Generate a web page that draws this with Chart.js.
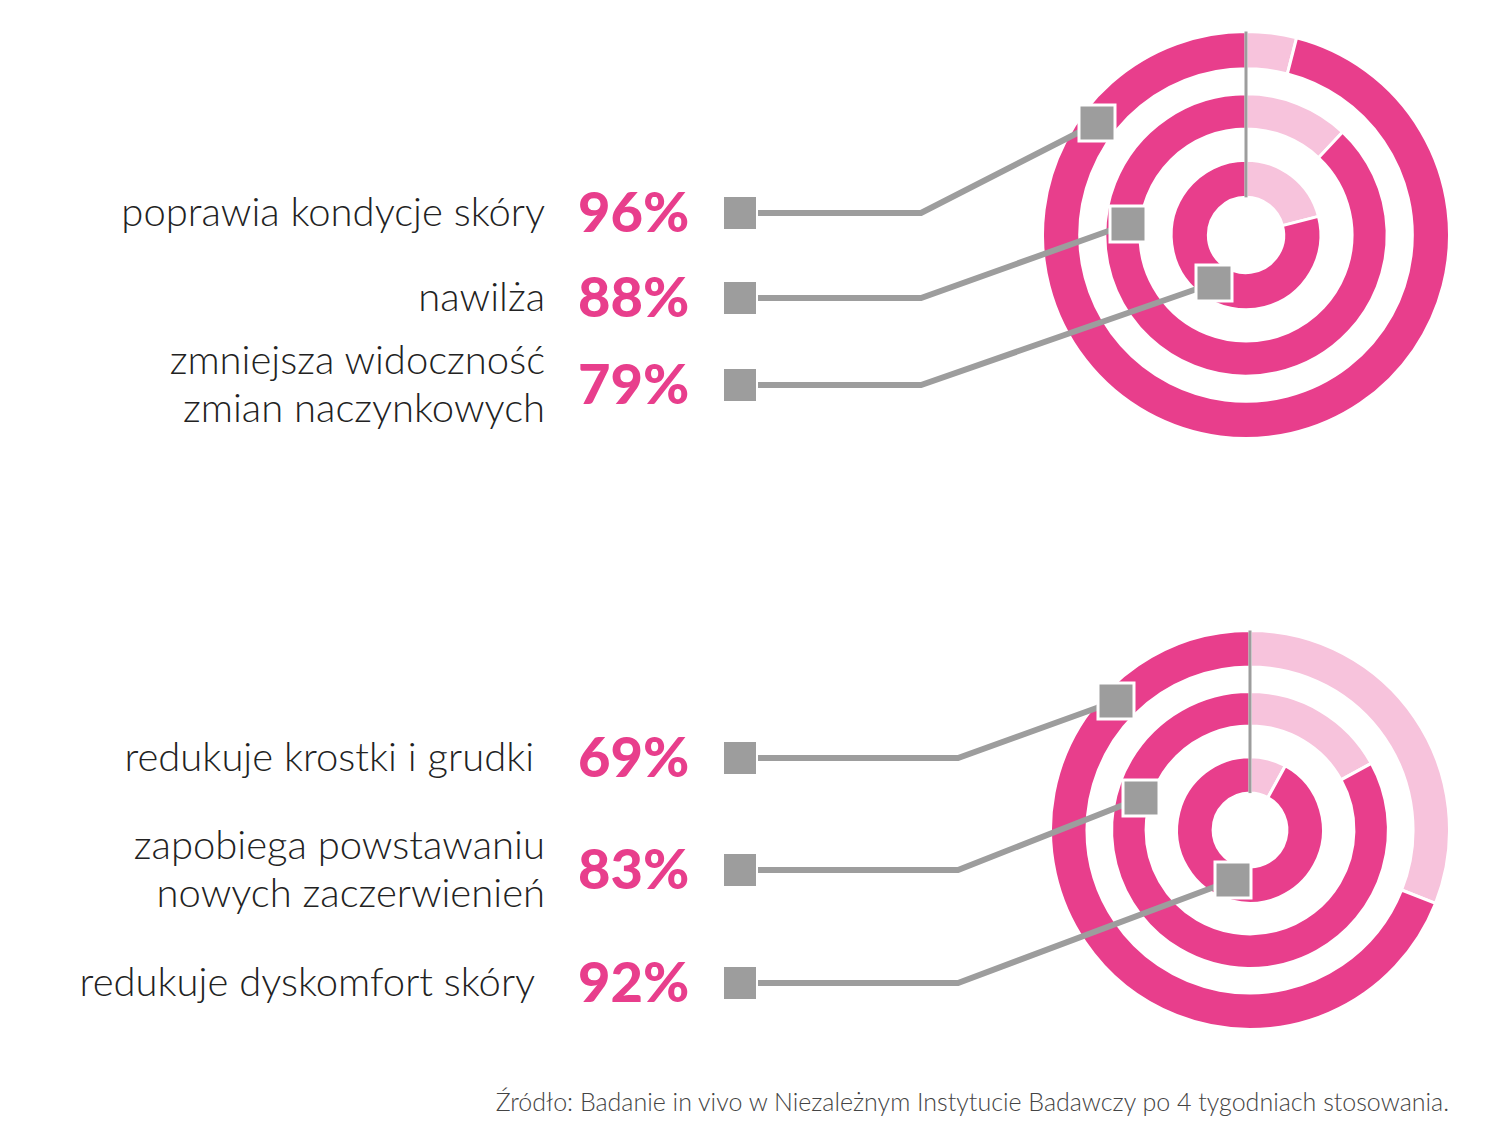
<!DOCTYPE html>
<html><head><meta charset="utf-8">
<script src="https://cdn.jsdelivr.net/npm/chart.js@4"></script>
<style>
body{margin:0;background:#fff;width:1500px;height:1142px;position:relative;overflow:hidden;font-family:"Lato",sans-serif;}
canvas.d{position:absolute;z-index:1;}
.lbl{position:absolute;right:955px;text-align:right;font-size:40px;color:#222;line-height:48px;font-weight:300;white-space:nowrap;}
.pct{position:absolute;left:578px;font-size:56px;font-weight:900;color:#e83e8c;}
.src{position:absolute;right:51px;top:1086px;font-size:25px;color:#444;font-weight:300;white-space:nowrap;}
#ov{position:absolute;left:0;top:0;z-index:5;pointer-events:none;}
</style></head><body>
<svg width="1500" height="1142" id="ov"></svg>
<canvas class="d" id="c1" width="410" height="410" style="left:1041px;top:30px"></canvas>
<canvas class="d" id="c2" width="402" height="402" style="left:1049px;top:629px"></canvas>
<div id="txt"></div>
<div class="src">Źródło: Badanie in vivo w Niezależnym Instytucie Badawczy po 4 tygodniach stosowania.</div>
<script>
const topLabels = ['poprawia kondycje skóry', 'nawilża', 'zmniejsza widoczność<br>zmian naczynkowych'];
const topValues = [96, 88, 79];
const botLabels = ['redukuje krostki i grudki&nbsp;', 'zapobiega powstawaniu<br>nowych zaczerwienień', 'redukuje dyskomfort skóry&nbsp;'];
const botValues = [69, 83, 92];

const PINK = '#e83e8c', LIGHT = '#f7c3dc', GRAY = '#9d9d9d';

// text and connectors (annotations)
const txt = document.getElementById('txt');
const ov = document.getElementById('ov');
function addRow(label, val, y, lines, ringPt, elbowX) {
  txt.insertAdjacentHTML('beforeend',
    `<div class="lbl" style="top:${y - 24*lines - 2}px">${label}</div>` +
    `<div class="pct" style="top:${y - 36}px">${val}%</div>`);
  ov.insertAdjacentHTML('beforeend',
    `<polyline points="757,${y} ${elbowX},${y} ${ringPt[0]},${ringPt[1]}" fill="none" stroke="${GRAY}" stroke-width="6"/>` +
    `<rect x="723" y="${y-17}" width="34" height="34" fill="${GRAY}" stroke="#fff" stroke-width="2"/>`);
}
function ringSquare(p) {
  return `<rect x="${p[0]-18}" y="${p[1]-18}" width="36" height="36" fill="${GRAY}" stroke="#fff" stroke-width="3"/>`;
}
const topY = [213, 298, 385], topPts = [[1097,123],[1128,224],[1214,283]];
const botY = [758, 870, 983], botPts = [[1116,701],[1141,798],[1233,880]];
topLabels.forEach((l, i) => addRow(l, topValues[i], topY[i], i === 2 ? 2 : 1, topPts[i], 921));
botLabels.forEach((l, i) => addRow(l, botValues[i], botY[i], i === 1 ? 2 : 1, botPts[i], 958));

const centerLine = {
  id: 'centerLine',
  afterDraw(chart) {
    const a = chart.getDatasetMeta(0).data[0];
    const ctx = chart.ctx;
    const inner = chart.getDatasetMeta(4).data[0];
    ctx.save();
    ctx.strokeStyle = GRAY; ctx.lineWidth = 3;
    ctx.beginPath();
    ctx.moveTo(a.x, a.y - inner.innerRadius);
    ctx.lineTo(a.x, a.y - a.outerRadius);
    ctx.stroke();
    ctx.restore();
  }
};

function rings(id, values) {
  const ds = [];
  values.forEach((v, i) => {
    if (i > 0) ds.push({data: [100], backgroundColor: ['rgba(0,0,0,0)'], weight: i === 1 ? 25 : 31, borderWidth: 0});
    ds.push({data: [100 - v, v], backgroundColor: [LIGHT, PINK], weight: i === 1 ? 35 : 37, borderWidth: 3, borderColor: '#fff'});
  });
  new Chart(document.getElementById(id), {
    type: 'doughnut',
    data: {datasets: ds},
    options: {
      responsive: false, animation: false, cutout: '18.5%',
      plugins: {legend: {display: false}, tooltip: {enabled: false}},
      layout: {padding: 0}
    },
    plugins: [centerLine]
  });
}
rings('c1', topValues);
rings('c2', botValues);
topPts.concat(botPts).forEach(p => ov.insertAdjacentHTML('beforeend', ringSquare(p)));
</script>
</body></html>
